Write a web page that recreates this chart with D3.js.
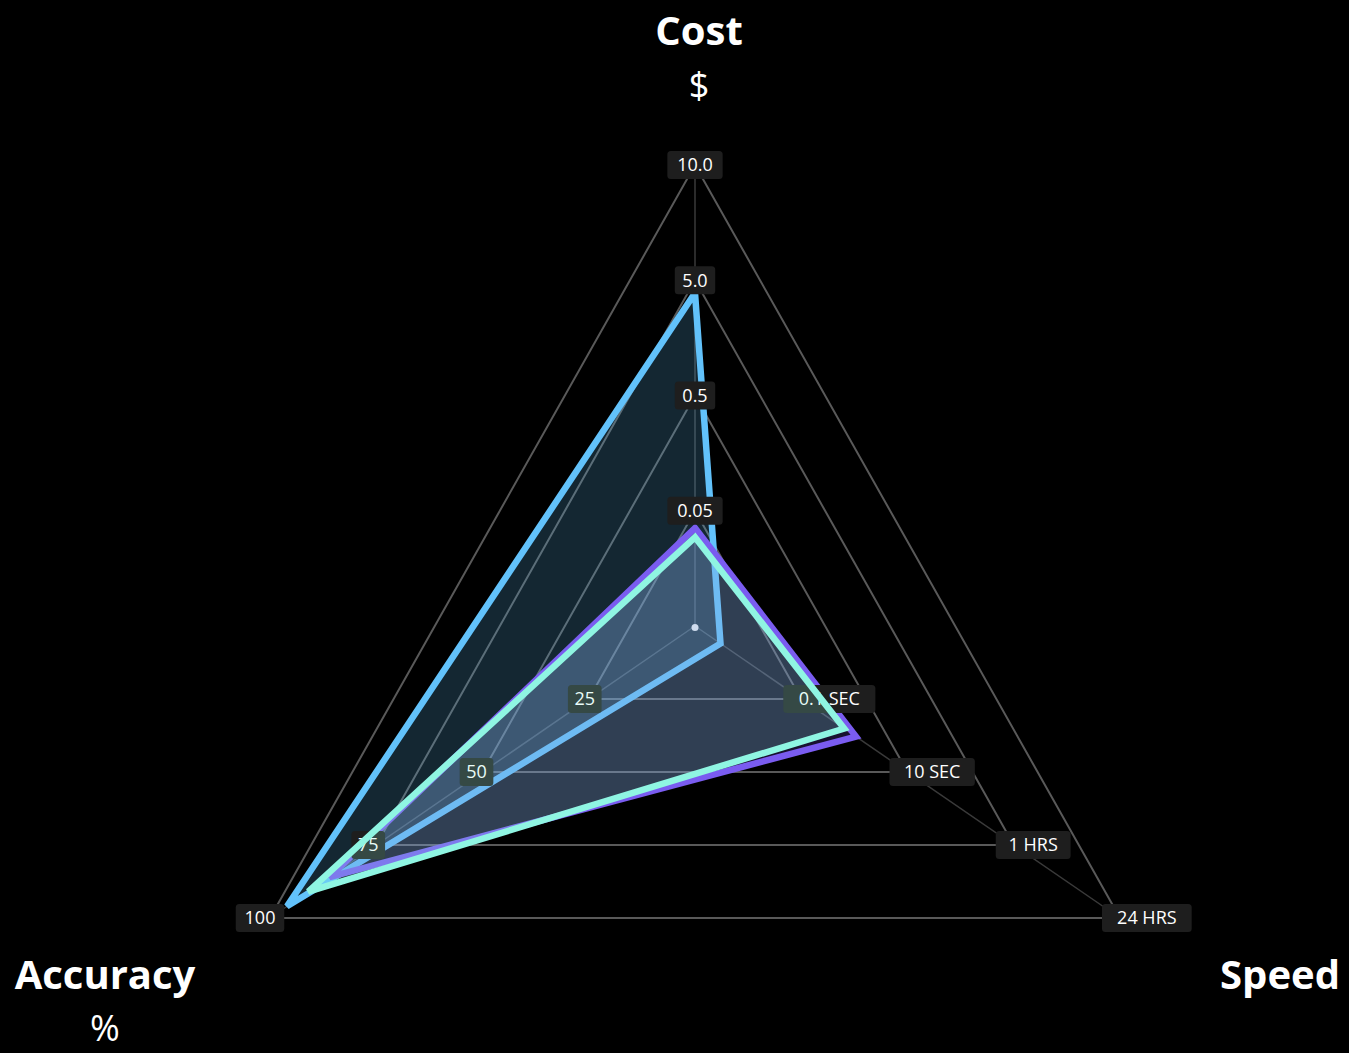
<!DOCTYPE html>
<html>
<head>
<meta charset="utf-8">
<script src="https://cdn.jsdelivr.net/npm/d3@7"></script>
<style>
  html, body { margin: 0; background: #000; }
  svg { display: block; }
</style>
</head>
<body>
<div id="chart"></div>
<script>
// axes, clockwise from the top
const axisNames = ['Cost', 'Speed', 'Accuracy']
const axisUnits = ['$', '', '%']

// ring labels and the values behind them (cost in $, speed in seconds, accuracy in %)
const costTicks = ['0.05', '0.5', '5.0', '10.0']
const costTickValues = [0.05, 0.5, 5, 10]
const speedTicks = ['0.1 SEC', '10 SEC', '1 HRS', '24 HRS']
const speedTickValues = [0.1, 10, 3600, 86400]
const accuracyTicks = ['25', '50', '75', '100']
const accuracyTickValues = [25, 50, 75, 100]

// three solutions
const seriesNames = ['series 1', 'series 2', 'series 3']
const costValues = [4.5, 0.0425, 0.0385]
const speedValues = [0.024, 5.2, 4.1]
const accuracyValues = [96, 86, 91]
const seriesColors = ['#62c2fb', '#7a5cf0', '#8ff5e2']

const width = 1349
const height = 1053
const cx = 695
const cy = 626
const levels = 4

// full length of each spoke in pixels (the picture is not a regular triangle)
const spokes = [[0, -461], [425, 292], [-425, 292]]

// every axis maps its value onto ring number 0..4
const levelScales = [
  d3.scaleLinear().domain([0, ...costTickValues]).range(d3.range(levels + 1)),
  d3.scaleLinear().domain([0, ...speedTickValues]).range(d3.range(levels + 1)),
  d3.scaleLinear().domain([0, ...accuracyTickValues]).range(d3.range(levels + 1)),
]
const r = d3.scaleLinear().domain([0, levels]).range([0, 1])

const pos = (i, level) => [cx + r(level) * spokes[i][0], cy + r(level) * spokes[i][1]]

const series = seriesNames.map((name, k) => ({
  name,
  color: seriesColors[k],
  values: [costValues[k], speedValues[k], accuracyValues[k]],
}))

const svg = d3
  .select('#chart')
  .append('svg')
  .attr('width', width)
  .attr('height', height)
  .attr('viewBox', [0, 0, width, height])
  .style('background', '#000')

// spokes
svg
  .append('g')
  .selectAll('line')
  .data(axisNames)
  .join('line')
  .attr('x1', cx)
  .attr('y1', cy)
  .attr('x2', (d, i) => pos(i, levels)[0])
  .attr('y2', (d, i) => pos(i, levels)[1])
  .attr('stroke', '#3a3a3a')
  .attr('stroke-width', 1.5)

// rings
const ring = d3.line().curve(d3.curveLinearClosed)
svg
  .append('g')
  .selectAll('path')
  .data(d3.range(1, levels + 1))
  .join('path')
  .attr('d', (k) => ring(axisNames.map((a, i) => pos(i, k))))
  .attr('fill', 'none')
  .attr('stroke', '#595959')
  .attr('stroke-width', 2)

// ring labels
const tickRows = [costTicks, speedTicks, accuracyTicks]
const tickData = []
tickRows.forEach((row, i) => row.forEach((label, k) => tickData.push({ axis: i, level: k + 1, label })))

function drawTicks(parent, data) {
  const tick = parent
    .append('g')
    .style('font', '18px "Open Sans", sans-serif')
    .selectAll('g')
    .data(data)
    .join('g')

  tick
    .append('text')
    .attr('fill', '#fff')
    .attr('text-anchor', 'middle')
    .attr('dy', '0.35em')
    .text((d) => d.label)

  tick.each(function (d) {
    const g = d3.select(this)
    const tw = g.select('text').node().getComputedTextLength()
    const w = tw + 2 * (0.22 * tw + 2)
    const [px, py] = pos(d.axis, d.level)
    let x = px
    if (d.axis === 1) x = px - 18 + w / 2
    if (d.axis === 2) x = px - 2 - 2 * d.level
    g.attr('transform', `translate(${x},${py})`)
    g.insert('rect', 'text')
      .attr('x', -w / 2)
      .attr('y', -14)
      .attr('width', w)
      .attr('height', 28)
      .attr('rx', 3.5)
      .attr('fill', '#1e1e1e')
  })
}

const area = d3.line().curve(d3.curveLinearClosed)
function drawSeries(parent, data) {
  parent
    .append('g')
    .selectAll('path')
    .data(data)
    .join('path')
    .attr('d', (s) => area(s.values.map((v, i) => pos(i, levelScales[i](v)))))
    .attr('fill', (s) => s.color)
    .attr('fill-opacity', 0.2)
    .attr('stroke', (s) => s.color)
    .attr('stroke-width', 6.5)
    .attr('stroke-linejoin', 'miter')
}

// layering as in the picture: two series, speed/accuracy labels, last series, cost labels
drawSeries(svg, series.slice(0, 2))
drawTicks(svg, tickData.filter((d) => d.axis !== 0))
drawSeries(svg, series.slice(2))
drawTicks(svg, tickData.filter((d) => d.axis === 0))

svg.append('circle').attr('cx', cx).attr('cy', cy + 1.5).attr('r', 3.5).attr('fill', '#cfdcee')

// axis titles
const titles = [
  { name: axisNames[0], unit: axisUnits[0], x: 699, y: 45, uy: 98 },
  { name: axisNames[1], unit: axisUnits[1], x: 1280, y: 989, uy: 0 },
  { name: axisNames[2], unit: axisUnits[2], x: 105, y: 989, uy: 1041 },
]
const title = svg.append('g').attr('fill', '#fff').attr('text-anchor', 'middle').selectAll('g').data(titles).join('g')
title
  .append('text')
  .attr('x', (d) => d.x)
  .attr('y', (d) => d.y)
  .style('font', '700 40px "Open Sans", sans-serif')
  .text((d) => d.name)
title
  .filter((d) => d.unit)
  .append('text')
  .attr('x', (d) => d.x)
  .attr('y', (d) => d.uy)
  .style('font', '36px "Open Sans", sans-serif')
  .text((d) => d.unit)
</script>
</body>
</html>
